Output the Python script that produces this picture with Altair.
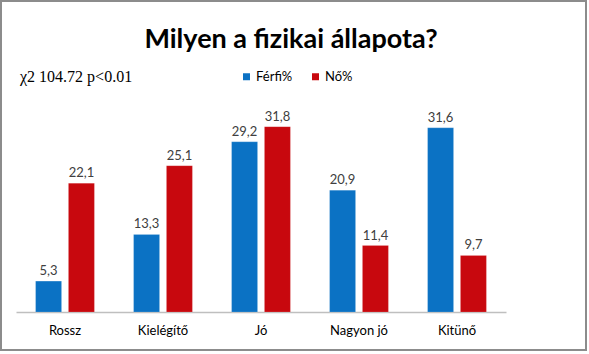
import altair as alt
import pandas as pd

categories = ["Rossz", "Kielégítő", "Jó", "Nagyon jó", "Kitünő"]
series = ["Férfi%", "Nő%"]
ferfi = [5.3, 13.3, 29.2, 20.9, 31.6]
no = [22.1, 25.1, 31.8, 11.4, 9.7]
colors = ["#0B72C4", "#C8080E"]

rows = []
for c, f, n in zip(categories, ferfi, no):
    rows.append({"cat": c, "series": series[0], "val": f, "lab": f"{f:.1f}".replace(".", ",")})
    rows.append({"cat": c, "series": series[1], "val": n, "lab": f"{n:.1f}".replace(".", ",")})
df = pd.DataFrame(rows)

FONT = "Lato"

x = alt.X("cat:N", sort=categories, title=None,
          scale=alt.Scale(paddingInner=0.4, paddingOuter=0.2),
          axis=alt.Axis(labelAngle=0, labelFontSize=13, labelFont=FONT, labelColor="#000000",
                        ticks=False, domainColor="#BFBFBF", domainWidth=1.5, labelPadding=12))
y = alt.Y("val:Q", scale=alt.Scale(domain=[0, 35]), axis=None)
xo = alt.XOffset("series:N", sort=series, scale=alt.Scale(paddingInner=0.21))

base = alt.Chart(df)
bars = base.mark_bar(stroke="#ffffff", strokeOpacity=0.3, strokeWidth=0.5).encode(
    x=x, y=y, xOffset=xo,
    color=alt.Color("series:N", sort=series, scale=alt.Scale(domain=series, range=colors),
                    legend=alt.Legend(title=None, orient="none", legendX=224, legendY=-38,
                                      direction="horizontal", symbolType="square",
                                      symbolSize=49, symbolStrokeWidth=0,
                                      labelFont=FONT, labelFontSize=13, labelColor="#000",
                                      labelOffset=3, columnPadding=16, symbolOffset=0))
)
labels = base.mark_text(dy=-10, fontSize=13, font=FONT, color="#404040").encode(
    x=x, y=y, xOffset=xo, text="lab:N"
)

title = alt.Chart(pd.DataFrame({"t": ["Milyen a fizikai állapota?"]})).mark_text(
    font=FONT, fontSize=27, fontWeight="bold", color="#000"
).encode(x=alt.value(275), y=alt.value(-68), text="t:N")

chi = alt.Chart(pd.DataFrame({"t": ["χ2 104.72 p<0.01"]})).mark_text(
    font="Liberation Serif", fontSize=16, color="#000", align="left"
).encode(x=alt.value(4), y=alt.value(-31), text="t:N")

frame = alt.Chart(pd.DataFrame({"a": [0]})).mark_rect(
    fill=None, stroke="#8C8C8C", strokeWidth=2
).encode(x=alt.value(-15), x2=alt.value(570), y=alt.value(-107), y2=alt.value(242))

chart = alt.layer(frame, bars, labels, title, chi).properties(
    width=490, height=204,
    autosize=alt.AutoSizeParams(type="none"),
    padding={"left": 16, "top": 108, "right": 83, "bottom": 42},
    background="#ffffff"
).configure_view(stroke=None)

chart.save("out.html", embed_options={"renderer": "svg", "actions": False})
